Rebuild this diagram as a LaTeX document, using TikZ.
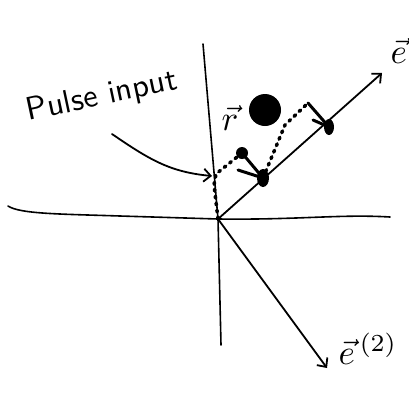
\documentclass[tikz,border=0pt]{standalone}
\usepackage{fontspec}
\usetikzlibrary{arrows.meta}
\tikzset{
  axis/.style={line width=1.6pt, line cap=round},
  vecline/.style={line width=1.8pt, line cap=round, -{Straight Barb[length=7pt,width=13pt,line width=1.8pt]}},
  dotpath/.style={line width=3.5pt, line cap=round, dash pattern=on 2pt off 5pt},
  blob/.style={fill=black, draw=none},
  lbl/.style={inner sep=0pt, scale=3.5, transform shape}
}
\begin{document}
\begin{tikzpicture}[x=1pt,y=-1pt]
\useasboundingbox (0,0) rectangle (409,402);
% origin and key points
\coordinate (O) at (218,219);
\coordinate (vtop) at (203,44);
\coordinate (vbot) at (221,345);
\coordinate (hleft) at (8,206);
\coordinate (hright) at (390,217);
\coordinate (e1tip) at (382,73);
\coordinate (e2tip) at (327,368);
% axes
\draw[axis] (vtop) -- (O) -- (vbot);
\draw[axis] (hleft) .. controls (20,214) and (60,214) .. (120,216) -- (O) .. controls (300,220) and (340,214) .. (hright);
% basis vectors
\draw[vecline] (O) -- (e1tip);
\draw[vecline] (O) -- (e2tip);
% labels
\node[lbl, anchor=west] (e1lbl) at (390,48) {$\vec{e}^{\,(1)}$};
\node[lbl, anchor=west] (e2lbl) at (338,349) {$\vec{e}^{\,(2)}$};
\node[lbl] (rlbl) at (230,118) {$\vec{r}$};
% pulse input
\node[inner sep=0pt, font=\sffamily, rotate=12, scale=3.25, transform shape] (pulse) at (102,97) {Pulse input};
\coordinate (pin) at (212,176);
\draw[vecline] (112,134) .. controls (150,160) and (170,172) .. (pin);
% blobs
\coordinate (b1) at (242,153);
\coordinate (b2) at (263,178);
\coordinate (b3) at (329,127);
\fill[blob] (265,110) ellipse (16pt and 16pt);
\fill[blob] (b1) circle (6pt);
\fill[blob] (b2) ellipse (6pt and 9pt);
\fill[blob] (b3) ellipse (5pt and 8pt);
\draw[line width=3pt, line cap=round] (b1) -- (b2);
\draw[line width=3pt, line cap=round] (238,170) -- (b2);
% dotted pulse path
\draw[dotpath] (O) -- (214,185) -- (216,174) -- (b1);
\draw[dotpath] (b2) -- (285,125) -- (308,103);
\draw[line width=3pt, line cap=round] (308,103) -- (b3);
\draw[line width=3pt, line cap=round] (313,120) -- (b3);
\end{tikzpicture}
\end{document}
